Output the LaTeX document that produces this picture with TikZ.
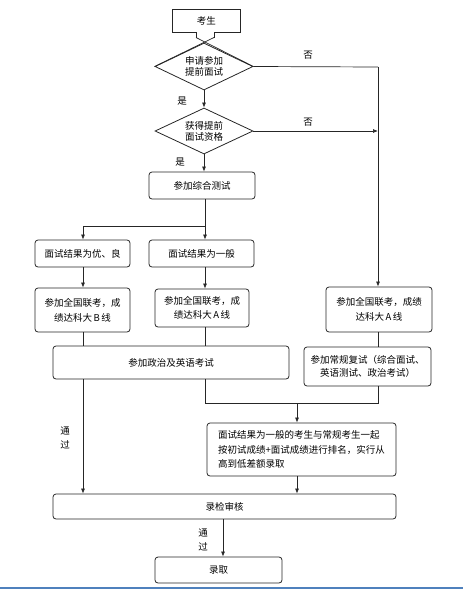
\documentclass[tikz,border=0pt]{standalone}
\usepackage{fontspec}
\setmainfont{Noto Sans CJK SC}
\usetikzlibrary{shapes.geometric,arrows.meta}
\begin{document}
\begin{tikzpicture}[x=1pt,y=-1pt,
  every node/.style={font=\fontsize{9.5}{11}\selectfont, inner sep=0pt},
  box/.style={draw=black!85, line width=0.8pt, rounded corners=3pt, align=center},
  dia/.style={draw=black!85, line width=0.8pt, shape=diamond, aspect=2, align=center},
  conn/.style={line width=0.7pt, draw=black!85},
  arr/.style={conn, -{Latex[length=5pt,width=4pt]}},
  lbl/.style={font=\fontsize{9.5}{14}\selectfont, align=center},
  blueline/.style={draw={rgb,255:red,79;green,129;blue,189}, line width=1.3pt}
]
\useasboundingbox (0,0) rectangle (463,589);
% start box with notch
\node (ks) at (206.3,21) [minimum width=67pt, minimum height=22pt] {考生};
\coordinate (nl) at (196,37.5);
\coordinate (nr) at (214,37.5);
\node (d1) at (204,66.5) [dia, minimum width=98pt, minimum height=47pt] {申请参加\\提前面试};
\node (d2) at (204,131) [dia, minimum width=98pt, minimum height=46pt] {获得提前\\面试资格};
\draw[conn] (nl |- ks.south) -- (ks.south west) -- (ks.north west) -- (ks.north east) -- (ks.south east) -- (nr |- ks.south) -- (nr);
\draw[conn] (nl |- ks.south) -- (nl);
\draw[conn] (nl) -- (d1.east);
\draw[conn] (nr) -- (d1.west);

\node (zh) at (202,185.5) [box, minimum width=106pt, minimum height=27pt] {\raisebox{-2pt}{参加综合测试}};
\node (ry) at (82.5,253.5) [box, minimum width=95pt, minimum height=27pt] {面试结果为优、良};
\node (yb) at (201.5,253.5) [box, minimum width=105pt, minimum height=27pt] {面试结果为一般};
\node (bB) at (82.5,310) [box, minimum width=95pt, minimum height=44pt, font=\fontsize{9.5}{15}\selectfont] {参加全国联考，成\\绩达科大\,B\,线};
\node (bA) at (202,308) [box, minimum width=94pt, minimum height=38pt, font=\fontsize{9.5}{14}\selectfont] {参加全国联考，成\\绩达科大\,A\,线};
\node (rA) at (379,309.5) [box, minimum width=106pt, minimum height=45pt, font=\fontsize{9.5}{14.7}\selectfont] {参加全国联考，成绩\\达科大\,A\,线};
\node (fs) at (367.5,366.5) [box, minimum width=127pt, minimum height=39pt, font=\fontsize{9.5}{13}\selectfont] {参加常规复试（综合面试、\\英语测试、政治考试）};
\node (zz) at (171,362.5) [box, minimum width=236pt, minimum height=33pt] {\raisebox{-2pt}{参加政治及英语考试}};
\node (pm) at (301.5,449.5) [box, minimum width=189pt, minimum height=53pt, align=left, font=\fontsize{9.5}{14.5}\selectfont] {面试结果为一般的考生与常规考生一起\\按初试成绩+面试成绩进行排名，实行从\\高到低差额录取};
\node (lj) at (224.5,506.5) [box, minimum width=343pt, minimum height=25pt] {\raisebox{-3pt}{录检审核}};
\node (lq) at (218.5,570) [box, minimum width=127pt, minimum height=26pt] {\raisebox{-2pt}{录取}};

% labels
\node (no1) at (308,55) {否};
\node (no2) at (308,122) {否};
\node (yes1) at (182,101) {是};
\node (yes2) at (180,162) {是};
\node (pass1) at (65,438) [lbl] {通\\过};
\node (pass2) at (203,540) [lbl] {通\\过};

% helper coordinates
\coordinate (rc) at (378,67);
\coordinate (sp) at (205,226);
\coordinate (c1) at (83,0);
\coordinate (c2) at (205,0);
\coordinate (mg) at (297,403);
\coordinate (mr) at (378,403);
\coordinate (c3) at (223,0);

% connectors
\draw[arr] (d1.south) -- (d2.north);
\draw[conn] (d1.east) -- (rc);
\draw[arr] (rc) -- (rA.north -| rc);
\draw[arr] (d2.east) -- (d2.east -| rc);
\draw[arr] (d2.south) -- (zh.north -| d2.south);
\draw[conn] (zh.south -| sp) -- (sp);
\draw[arr] (sp) -- (yb.north -| sp);
\draw[arr] (sp) -| (ry.north -| c1);
\draw[arr] (ry.south -| c1) -- (bB.north -| c1);
\draw[arr] (yb.south -| c2) -- (bA.north -| c2);
\draw[conn] (bB.south -| c1) -- (zz.north -| c1);
\draw[conn] (bA.south -| c2) -- (zz.north -| c2);
\draw[conn] (rA.south -| rc) -- (fs.north -| rc);
\draw[conn] (zz.south -| c2) |- (mr) -- (fs.south -| mr);
\draw[arr] (mg) -- (pm.north -| mg);
\draw[arr] (zz.south -| c1) -- (lj.north -| c1);
\draw[arr] (pm.south -| mg) -- (lj.north -| mg);
\draw[arr] (lj.south -| c3) -- (lq.north -| c3);

% bottom rule
\coordinate (bl) at (0,588);
\coordinate (br) at (463,588);
\draw[blueline] (bl) -- (br);
\end{tikzpicture}
\end{document}
